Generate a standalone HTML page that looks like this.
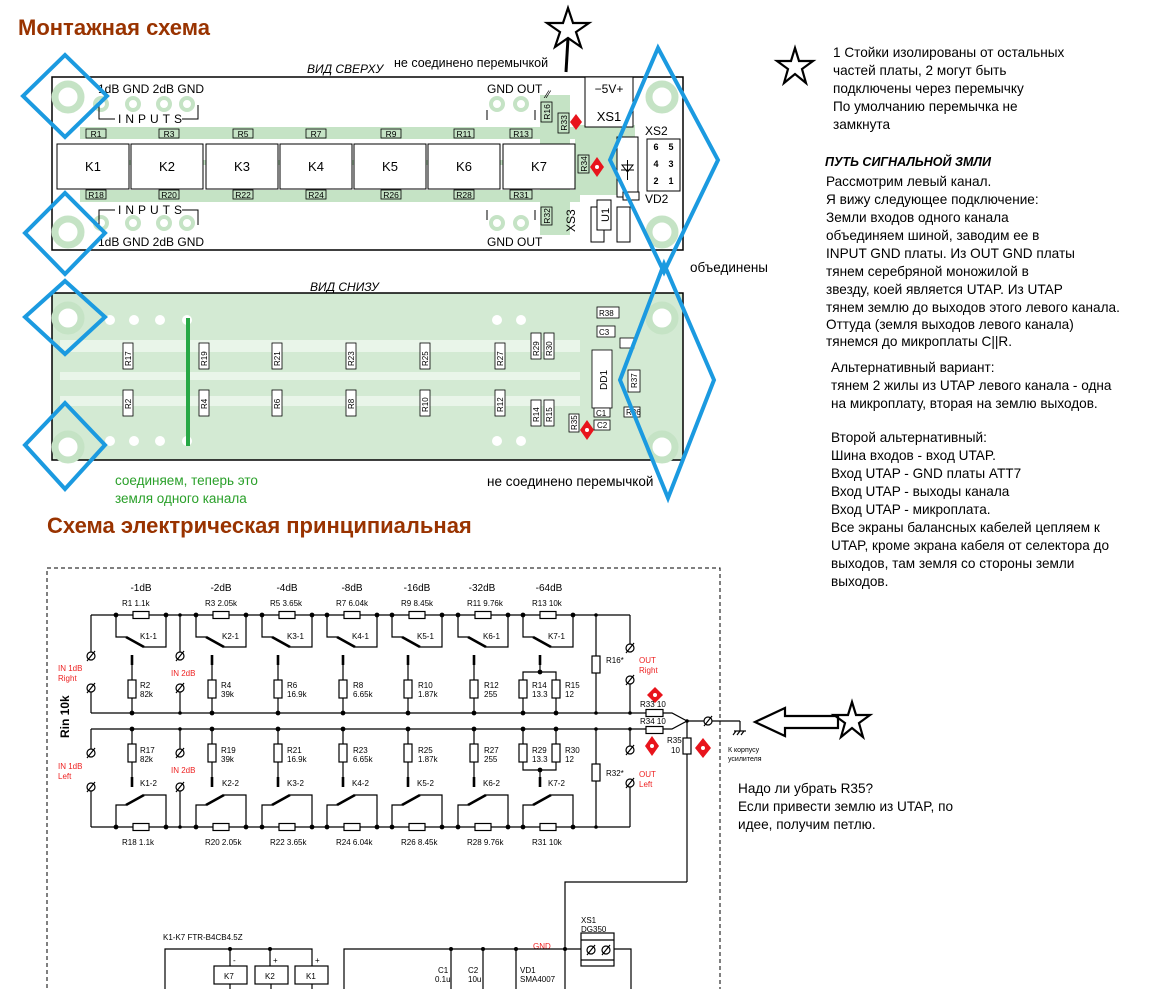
<!DOCTYPE html>
<html><head><meta charset="utf-8"><style>
html,body{margin:0;padding:0;background:#fff;}
svg{display:block;font-family:"Liberation Sans",sans-serif;}
.n{font-family:"Liberation Sans Narrow","Liberation Sans",sans-serif;}
</style></head><body>
<svg width="1152" height="989" viewBox="0 0 1152 989" xmlns="http://www.w3.org/2000/svg">
<defs>
<g id="gnd"><circle r="4" fill="#fff" stroke="#000" stroke-width="1.2"/><line x1="-4" y1="5" x2="4" y2="-5" stroke="#000" stroke-width="1.2"/></g>
<g id="sec" stroke="#000" fill="none" stroke-width="1.2">
<rect x="17" y="-3.5" width="16" height="7" fill="#fff"/>
<polyline points="0,0 0,22 10,22"/>
<line x1="10" y1="22" x2="28" y2="32" stroke-width="2.6"/>
<polyline points="28,32 50,32 50,0"/>
<line x1="16" y1="40" x2="16" y2="50" stroke-width="2.6"/>
<line x1="16" y1="50" x2="16" y2="98"/>
<rect x="12" y="65" width="8" height="18" fill="#fff"/>
<circle cx="0" cy="0" r="1.8" fill="#000"/><circle cx="50" cy="0" r="1.8" fill="#000"/><circle cx="16" cy="98" r="1.8" fill="#000"/>
</g>
<g id="sec7" stroke="#000" fill="none" stroke-width="1.2">
<rect x="17" y="-3.5" width="16" height="7" fill="#fff"/>
<polyline points="0,0 0,22 10,22"/>
<line x1="10" y1="22" x2="28" y2="32" stroke-width="2.6"/>
<polyline points="28,32 50,32 50,0"/>
<line x1="17" y1="40" x2="17" y2="50" stroke-width="2.6"/>
<polyline points="17,50 17,57"/>
<polyline points="0,98 0,57 33,57 33,98"/>
<rect x="-4" y="65" width="8" height="18" fill="#fff"/>
<rect x="29" y="65" width="8" height="18" fill="#fff"/>
<circle cx="0" cy="0" r="1.8" fill="#000"/><circle cx="50" cy="0" r="1.8" fill="#000"/><circle cx="17" cy="57" r="1.8" fill="#000"/><circle cx="0" cy="98" r="1.8" fill="#000"/><circle cx="33" cy="98" r="1.8" fill="#000"/>
</g>
<g id="pad"><circle r="6" fill="#fff" stroke="#c5e3c5" stroke-width="4"/></g>
<g id="hole"><circle r="13" fill="#fff" stroke="#c5e3c5" stroke-width="7"/></g>
</defs>

<text x="18" y="35" font-size="22" font-weight="bold" fill="#993300">Монтажная схема</text>
<text x="47" y="533" font-size="22" font-weight="bold" fill="#993300">Схема электрическая принципиальная</text>

<text x="307" y="73" font-size="12" font-style="italic">ВИД СВЕРХУ</text>
<text x="394" y="67" font-size="12.5">не соединено перемычкой</text>
<rect x="52" y="77" width="631" height="173" fill="#fff" stroke="#000" stroke-width="1.5"/>
<g fill="#c5e3c5">
<rect x="80" y="127" width="500" height="12"/>
<rect x="80" y="190" width="500" height="12"/>
<rect x="95" y="160" width="480" height="5"/>
<rect x="540" y="95" width="30" height="140"/>
<rect x="575" y="125" width="60" height="70"/>
</g>
<use href="#hole" x="68" y="97"/><use href="#hole" x="68" y="232"/><use href="#hole" x="662" y="97"/><use href="#hole" x="662" y="232"/>
<use href="#pad" x="101" y="104"/><use href="#pad" x="133" y="104"/><use href="#pad" x="164" y="104"/><use href="#pad" x="187" y="104"/>
<use href="#pad" x="101" y="223"/><use href="#pad" x="133" y="223"/><use href="#pad" x="164" y="223"/><use href="#pad" x="187" y="223"/>
<use href="#pad" x="497" y="104"/><use href="#pad" x="521" y="104"/><use href="#pad" x="497" y="223"/><use href="#pad" x="521" y="223"/>
<g class="n" font-size="12">
<text x="98" y="93">1dB GND  2dB GND</text>
<text x="98" y="246">1dB GND  2dB GND</text>
<text x="487" y="93">GND OUT</text>
<text x="487" y="246">GND OUT</text>
<text x="118" y="123" letter-spacing="4">INPUTS</text>
<text x="118" y="214" letter-spacing="4">INPUTS</text>
</g>
<g stroke="#000" fill="none" stroke-width="1">
<polyline points="99,105 99,119 115,119"/><polyline points="182,119 198,119 198,105"/>
<polyline points="99,225 99,210 115,210"/><polyline points="182,210 198,210 198,225"/>
<polyline points="487,120 487,110"/><polyline points="535,120 535,110"/>
<polyline points="487,210 487,220"/><polyline points="535,210 535,220"/>
</g>
<g fill="#fff" stroke="#000" stroke-width="1">
<rect x="57" y="144" width="72" height="45"/><rect x="131" y="144" width="72" height="45"/><rect x="206" y="144" width="72" height="45"/><rect x="280" y="144" width="72" height="45"/><rect x="354" y="144" width="72" height="45"/><rect x="428" y="144" width="72" height="45"/><rect x="503" y="144" width="72" height="45"/>
</g>
<g font-size="13" text-anchor="middle" class="n">
<text x="93" y="171">K1</text><text x="167" y="171">K2</text><text x="242" y="171">K3</text><text x="316" y="171">K4</text><text x="390" y="171">K5</text><text x="464" y="171">K6</text><text x="539" y="171">K7</text>
</g>
<g fill="#c5e3c5" stroke="#000" stroke-width="0.8">
<rect x="86" y="129" width="20" height="9"/><rect x="159" y="129" width="20" height="9"/><rect x="233" y="129" width="20" height="9"/><rect x="306" y="129" width="20" height="9"/><rect x="381" y="129" width="20" height="9"/><rect x="454" y="129" width="20" height="9"/><rect x="510" y="129" width="22" height="9"/>
<rect x="86" y="190" width="20" height="9"/><rect x="159" y="190" width="20" height="9"/><rect x="233" y="190" width="20" height="9"/><rect x="306" y="190" width="20" height="9"/><rect x="381" y="190" width="20" height="9"/><rect x="454" y="190" width="20" height="9"/><rect x="510" y="190" width="22" height="9"/>
<rect x="541" y="102" width="11" height="20"/><rect x="558" y="113" width="11" height="20"/><rect x="578" y="155" width="11" height="18"/><rect x="541" y="207" width="11" height="18"/>
</g>
<g font-size="8.5" text-anchor="middle" class="n">
<text x="96" y="137">R1</text><text x="169" y="137">R3</text><text x="243" y="137">R5</text><text x="316" y="137">R7</text><text x="391" y="137">R9</text><text x="464" y="137">R11</text><text x="521" y="137">R13</text>
<text x="96" y="198">R18</text><text x="169" y="198">R20</text><text x="243" y="198">R22</text><text x="316" y="198">R24</text><text x="391" y="198">R26</text><text x="464" y="198">R28</text><text x="521" y="198">R31</text>
<text transform="translate(550,112) rotate(-90)">R16</text><text transform="translate(567,123) rotate(-90)">R33</text><text transform="translate(587,164) rotate(-90)">R34</text><text transform="translate(550,216) rotate(-90)">R32</text>
</g>
<rect x="585" y="77" width="48" height="50" fill="#fff" stroke="#000"/>
<text x="609" y="93" font-size="12" text-anchor="middle" class="n">−5V+</text>
<text x="609" y="121" font-size="13" text-anchor="middle" class="n">XS1</text>
<rect x="617" y="137" width="21" height="60" fill="#fff" stroke="#000"/>
<path d="M621,170 L634,170 M627.5,160 L627.5,180 M622,165 L633,165 L627.5,172 Z" stroke="#000" fill="none"/>
<text x="645" y="135" font-size="12" class="n">XS2</text>
<rect x="647" y="139" width="33" height="52" fill="#fff" stroke="#000"/>
<g font-size="9" text-anchor="middle" font-weight="bold"><text x="656" y="150">6</text><text x="671" y="150">5</text><text x="656" y="167">4</text><text x="671" y="167">3</text><text x="656" y="184">2</text><text x="671" y="184">1</text></g>
<text x="645" y="203" font-size="12" class="n">VD2</text>
<rect x="623" y="192" width="16" height="8" fill="#fff" stroke="#000"/>
<rect x="591" y="207" width="13" height="35" fill="#fff" stroke="#000"/>
<rect x="597" y="200" width="14" height="30" fill="#fff" stroke="#000"/>
<rect x="617" y="207" width="13" height="35" fill="#fff" stroke="#000"/>
<text transform="translate(575,232) rotate(-90)" font-size="12" class="n">XS3</text>
<text transform="translate(609,222) rotate(-90)" font-size="11" class="n">U1</text>
<text x="546" y="98" font-size="11">⁄⁄</text>

<text x="310" y="291" font-size="12" font-style="italic">ВИД СНИЗУ</text>
<text x="690" y="272" font-size="13.5">объединены</text>
<rect x="52" y="293" width="631" height="167" fill="#d3ead3" stroke="#000" stroke-width="1.5"/>
<g fill="#e9f5e9"><rect x="60" y="340" width="520" height="12"/><rect x="60" y="372" width="520" height="8"/><rect x="60" y="396" width="520" height="10"/></g>
<use href="#hole" x="68" y="318"/><use href="#hole" x="68" y="447"/><use href="#hole" x="662" y="318"/><use href="#hole" x="662" y="447"/>
<g fill="#fff">
<circle cx="110" cy="320" r="5"/><circle cx="134" cy="320" r="5"/><circle cx="160" cy="320" r="5"/><circle cx="187" cy="320" r="5"/><circle cx="497" cy="320" r="5"/><circle cx="521" cy="320" r="5"/>
<circle cx="110" cy="441" r="5"/><circle cx="134" cy="441" r="5"/><circle cx="160" cy="441" r="5"/><circle cx="187" cy="441" r="5"/><circle cx="497" cy="441" r="5"/><circle cx="521" cy="441" r="5"/>
</g>
<g fill="#fff" stroke="#000" stroke-width="0.8">
<rect x="123" y="343" width="10" height="26"/><rect x="199" y="343" width="10" height="26"/><rect x="272" y="343" width="10" height="26"/><rect x="346" y="343" width="10" height="26"/><rect x="420" y="343" width="10" height="26"/><rect x="495" y="343" width="10" height="26"/><rect x="531" y="333" width="10" height="26"/><rect x="544" y="333" width="10" height="26"/>
<rect x="123" y="390" width="10" height="26"/><rect x="199" y="390" width="10" height="26"/><rect x="272" y="390" width="10" height="26"/><rect x="346" y="390" width="10" height="26"/><rect x="420" y="390" width="10" height="26"/><rect x="495" y="390" width="10" height="26"/><rect x="531" y="400" width="10" height="26"/><rect x="544" y="400" width="10" height="26"/>
<rect x="597" y="307" width="22" height="11"/><rect x="597" y="326" width="18" height="11"/><rect x="620" y="338" width="14" height="10"/><rect x="592" y="350" width="20" height="58"/><rect x="628" y="370" width="12" height="22"/><rect x="594" y="408" width="16" height="9"/><rect x="594" y="420" width="16" height="10"/><rect x="624" y="407" width="16" height="10"/><rect x="569" y="414" width="10" height="18"/>
</g>
<g font-size="8" class="n">
<text transform="translate(131,366) rotate(-90)">R17</text><text transform="translate(207,366) rotate(-90)">R19</text><text transform="translate(280,366) rotate(-90)">R21</text><text transform="translate(354,366) rotate(-90)">R23</text><text transform="translate(428,366) rotate(-90)">R25</text><text transform="translate(503,366) rotate(-90)">R27</text><text transform="translate(539,356) rotate(-90)">R29</text><text transform="translate(552,356) rotate(-90)">R30</text>
<text transform="translate(131,409) rotate(-90)">R2</text><text transform="translate(207,409) rotate(-90)">R4</text><text transform="translate(280,409) rotate(-90)">R6</text><text transform="translate(354,409) rotate(-90)">R8</text><text transform="translate(428,412) rotate(-90)">R10</text><text transform="translate(503,412) rotate(-90)">R12</text><text transform="translate(539,422) rotate(-90)">R14</text><text transform="translate(552,422) rotate(-90)">R15</text>
<text x="599" y="316">R38</text><text x="599" y="335">C3</text><text x="596" y="416">C1</text><text x="597" y="428">C2</text><text x="626" y="415">R36</text>
<text transform="translate(607,390) rotate(-90)" font-size="10">DD1</text><text transform="translate(637,388) rotate(-90)">R37</text><text transform="translate(577,430) rotate(-90)">R35</text>
</g>
<line x1="188" y1="318" x2="188" y2="446" stroke="#27a845" stroke-width="4"/>
<text x="115" y="485" font-size="13.5" fill="#2aa02a">соединяем, теперь это</text>
<text x="115" y="503" font-size="13.5" fill="#2aa02a">земля одного канала</text>
<text x="487" y="486" font-size="13.5">не соединено перемычкой</text>

<g fill="none" stroke="#1b9ae0" stroke-width="4">
<polygon points="23,96 65,55 107,96 65,137"/>
<polygon points="25,233 65,193 105,233 65,274"/>
<polygon points="25,317 65,281 105,317 65,354"/>
<polygon points="25,445 65,403 105,445 65,489"/>
<polygon points="610,160 658,48 718,160 664,272"/>
<polygon points="620,380 664,264 714,380 668,498"/>
</g>

<g fill="#e8141c">
<polygon points="576,114 582,122 576,130 570,122"/>
<polygon points="597,157 604,167 597,177 590,167"/>
<polygon points="587,420 594,430 587,440 580,430"/>
<polygon points="655,687 663,695 655,703 647,695"/>
<polygon points="652,736 659,746 652,756 645,746"/>
<polygon points="703,738 711,748 703,758 695,748"/>
</g>
<g fill="#fff"><circle cx="597" cy="167" r="2"/><circle cx="587" cy="430" r="2"/><circle cx="655" cy="695" r="2"/><circle cx="652" cy="746" r="2"/><circle cx="703" cy="748" r="2"/></g>

<g fill="none" stroke="#000" stroke-width="2.2">
<polygon points="568,8 573,23 589,23 576,32 581,47 568,38 555,47 560,32 547,23 563,23"/>
<polygon points="795,48 799,61 813,61 802,69 806,83 795,74 784,83 788,69 777,61 791,61"/>
<polygon points="852,702 856,715 870,715 859,723 863,737 852,728 841,737 845,723 834,715 848,715"/>
<polygon points="755,722 785,708 785,716 838,716 838,728 785,728 785,736"/>
</g>
<line x1="568" y1="38" x2="566" y2="72" stroke="#000" stroke-width="3"/>

<g font-size="13.6">
<text x="833" y="57">1 Стойки изолированы от остальных</text>
<text x="833" y="75">частей платы, 2 могут быть</text>
<text x="833" y="93">подключены через перемычку</text>
<text x="833" y="111">По умолчанию перемычка не</text>
<text x="833" y="129">замкнута</text>
<text x="825" y="166" font-weight="bold" font-style="italic" font-size="12.5">ПУТЬ СИГНАЛЬНОЙ ЗМЛИ</text>
<text x="826" y="186">Рассмотрим левый канал.</text>
<text x="826" y="204">Я вижу следующее подключение:</text>
<text x="826" y="222">Земли входов одного канала</text>
<text x="826" y="240">объединяем шиной, заводим ее в</text>
<text x="826" y="258">INPUT GND платы. Из OUT GND платы</text>
<text x="826" y="276">тянем серебряной моножилой в</text>
<text x="826" y="294">звезду, коей является UTAP. Из UTAP</text>
<text x="826" y="312">тянем землю до выходов этого левого канала.</text>
<text x="826" y="329">Оттуда (земля выходов левого канала)</text>
<text x="826" y="346">тянемся до микроплаты C||R.</text>
<text x="831" y="372">Альтернативный вариант:</text>
<text x="831" y="390">тянем 2 жилы из UTAP левого канала - одна</text>
<text x="831" y="408">на микроплату, вторая на землю выходов.</text>
<text x="831" y="442">Второй альтернативный:</text>
<text x="831" y="460">Шина входов - вход UTAP.</text>
<text x="831" y="478">Вход UTAP - GND платы ATT7</text>
<text x="831" y="496">Вход UTAP - выходы канала</text>
<text x="831" y="514">Вход UTAP - микроплата.</text>
<text x="831" y="532">Все экраны балансных кабелей цепляем к</text>
<text x="831" y="550">UTAP, кроме экрана кабеля от селектора до</text>
<text x="831" y="568">выходов, там земля со стороны земли</text>
<text x="831" y="586">выходов.</text>
<text x="738" y="793">Надо ли убрать R35?</text>
<text x="738" y="811"> Если привести землю из UTAP, по</text>
<text x="738" y="829">идее, получим петлю.</text>
</g>

<rect x="47" y="568" width="673" height="440" fill="none" stroke="#000" stroke-dasharray="4,3"/>
<g stroke="#000" stroke-width="1.2" fill="none">
<line x1="91" y1="615" x2="630" y2="615"/>
<line x1="91" y1="713" x2="646" y2="713"/>
<line x1="91" y1="729" x2="646" y2="729"/>
<line x1="91" y1="827" x2="630" y2="827"/>
<line x1="91" y1="615" x2="91" y2="652"/><line x1="91" y1="692" x2="91" y2="713"/>
<line x1="180" y1="615" x2="180" y2="652"/><line x1="180" y1="692" x2="180" y2="713"/>
<line x1="91" y1="729" x2="91" y2="749"/><line x1="91" y1="791" x2="91" y2="827"/>
<line x1="180" y1="729" x2="180" y2="749"/><line x1="180" y1="791" x2="180" y2="827"/>
<line x1="596" y1="615" x2="596" y2="713"/><rect x="592" y="656" width="8" height="17" fill="#fff"/>
<line x1="596" y1="729" x2="596" y2="827"/><rect x="592" y="764" width="8" height="17" fill="#fff"/>
<line x1="630" y1="615" x2="630" y2="644"/><line x1="630" y1="684" x2="630" y2="713"/>
<line x1="630" y1="729" x2="630" y2="746"/><line x1="630" y1="787" x2="630" y2="827"/>
<rect x="646" y="709.5" width="17" height="7" fill="#fff"/>
<rect x="646" y="726.5" width="17" height="7" fill="#fff"/>
<polyline points="663,713 672,713 687,721 672,729 663,729"/>
<line x1="687" y1="721" x2="740" y2="721"/>
<polyline points="740,721 740,731"/><line x1="734" y1="731" x2="746" y2="731"/><line x1="736" y1="731" x2="733" y2="735"/><line x1="740" y1="731" x2="737" y2="735"/><line x1="744" y1="731" x2="741" y2="735"/>
<line x1="687" y1="721" x2="687" y2="882"/><rect x="683" y="738" width="8" height="16" fill="#fff"/>
<polyline points="687,882 565,882 565,989"/>
</g>
<g fill="#000"><circle cx="687" cy="721" r="1.8"/><circle cx="596" cy="615" r="1.8"/><circle cx="596" cy="713" r="1.8"/><circle cx="630" cy="713" r="1.8"/><circle cx="596" cy="729" r="1.8"/><circle cx="596" cy="827" r="1.8"/><circle cx="630" cy="729" r="1.8"/><circle cx="180" cy="615" r="1.8"/><circle cx="180" cy="713" r="1.8"/><circle cx="180" cy="729" r="1.8"/><circle cx="180" cy="827" r="1.8"/></g>
<use href="#gnd" x="91" y="656"/><use href="#gnd" x="91" y="688"/><use href="#gnd" x="180" y="656"/><use href="#gnd" x="180" y="688"/>
<use href="#gnd" x="91" y="753"/><use href="#gnd" x="91" y="787"/><use href="#gnd" x="180" y="753"/><use href="#gnd" x="180" y="787"/>
<use href="#gnd" x="630" y="648"/><use href="#gnd" x="630" y="680"/><use href="#gnd" x="630" y="750"/><use href="#gnd" x="630" y="783"/><use href="#gnd" x="708" y="721"/>
<use href="#sec" transform="translate(116,615)"/><use href="#sec" transform="translate(196,615)"/><use href="#sec" transform="translate(262,615)"/><use href="#sec" transform="translate(327,615)"/><use href="#sec" transform="translate(392,615)"/><use href="#sec" transform="translate(458,615)"/><use href="#sec7" transform="translate(523,615)"/>
<use href="#sec" transform="translate(116,827) scale(1,-1)"/><use href="#sec" transform="translate(196,827) scale(1,-1)"/><use href="#sec" transform="translate(262,827) scale(1,-1)"/><use href="#sec" transform="translate(327,827) scale(1,-1)"/><use href="#sec" transform="translate(392,827) scale(1,-1)"/><use href="#sec" transform="translate(458,827) scale(1,-1)"/><use href="#sec7" transform="translate(523,827) scale(1,-1)"/>
<g font-size="8" class="n">
<g text-anchor="middle" font-size="10"><text x="141" y="591">-1dB</text><text x="221" y="591">-2dB</text><text x="287" y="591">-4dB</text><text x="352" y="591">-8dB</text><text x="417" y="591">-16dB</text><text x="482" y="591">-32dB</text><text x="549" y="591">-64dB</text></g>
<text x="122" y="606">R1   1.1k</text><text x="205" y="606">R3   2.05k</text><text x="270" y="606">R5   3.65k</text><text x="336" y="606">R7   6.04k</text><text x="401" y="606">R9   8.45k</text><text x="467" y="606">R11   9.76k</text><text x="532" y="606">R13   10k</text>
<text x="122" y="845">R18   1.1k</text><text x="205" y="845">R20   2.05k</text><text x="270" y="845">R22   3.65k</text><text x="336" y="845">R24   6.04k</text><text x="401" y="845">R26   8.45k</text><text x="467" y="845">R28   9.76k</text><text x="532" y="845">R31   10k</text>
<text x="140" y="639">K1-1</text><text x="222" y="639">K2-1</text><text x="287" y="639">K3-1</text><text x="352" y="639">K4-1</text><text x="417" y="639">K5-1</text><text x="483" y="639">K6-1</text><text x="548" y="639">K7-1</text>
<text x="140" y="786">K1-2</text><text x="222" y="786">K2-2</text><text x="287" y="786">K3-2</text><text x="352" y="786">K4-2</text><text x="417" y="786">K5-2</text><text x="483" y="786">K6-2</text><text x="548" y="786">K7-2</text>
<text x="140" y="688">R2</text><text x="140" y="697">82k</text><text x="221" y="688">R4</text><text x="221" y="697">39k</text><text x="287" y="688">R6</text><text x="287" y="697">16.9k</text><text x="353" y="688">R8</text><text x="353" y="697">6.65k</text><text x="418" y="688">R10</text><text x="418" y="697">1.87k</text><text x="484" y="688">R12</text><text x="484" y="697">255</text><text x="532" y="688">R14</text><text x="532" y="697">13.3</text><text x="565" y="688">R15</text><text x="565" y="697">12</text>
<text x="140" y="753">R17</text><text x="140" y="762">82k</text><text x="221" y="753">R19</text><text x="221" y="762">39k</text><text x="287" y="753">R21</text><text x="287" y="762">16.9k</text><text x="353" y="753">R23</text><text x="353" y="762">6.65k</text><text x="418" y="753">R25</text><text x="418" y="762">1.87k</text><text x="484" y="753">R27</text><text x="484" y="762">255</text><text x="532" y="753">R29</text><text x="532" y="762">13.3</text><text x="565" y="753">R30</text><text x="565" y="762">12</text>
<text x="606" y="663">R16*</text><text x="606" y="776">R32*</text>
<text x="640" y="707">R33   10</text><text x="640" y="724">R34   10</text><text x="667" y="743">R35</text><text x="671" y="753">10</text>
<text x="728" y="752" font-size="7">К корпусу</text><text x="728" y="761" font-size="7">усилителя</text>
<g fill="#ee2222"><text x="58" y="671">IN 1dB</text><text x="58" y="681">Right</text><text x="171" y="676">IN 2dB</text><text x="58" y="769">IN 1dB</text><text x="58" y="779">Left</text><text x="171" y="773">IN 2dB</text><text x="639" y="663">OUT</text><text x="639" y="673">Right</text><text x="639" y="777">OUT</text><text x="639" y="787">Left</text><text x="533" y="949">GND</text></g>
</g>
<text transform="translate(69,738) rotate(-90)" font-size="12" font-weight="bold">Rin 10k</text>
<g stroke="#000" stroke-width="1.2" fill="none">
<polyline points="165,989 165,949 312,949 312,966"/>
<line x1="230" y1="949" x2="230" y2="966"/><line x1="270" y1="949" x2="270" y2="966"/>
<rect x="214" y="966" width="33" height="18" fill="#fff"/><rect x="255" y="966" width="33" height="18" fill="#fff"/><rect x="295" y="966" width="33" height="18" fill="#fff"/>
<line x1="230" y1="984" x2="230" y2="989"/><line x1="271" y1="984" x2="271" y2="989"/><line x1="312" y1="984" x2="312" y2="989"/>
<polyline points="344,989 344,949 631,949 631,989"/>
<line x1="451" y1="949" x2="451" y2="989"/><line x1="483" y1="949" x2="483" y2="989"/><line x1="516" y1="949" x2="516" y2="989"/>
<rect x="581" y="933" width="33" height="33" fill="#fff"/><line x1="581" y1="940" x2="614" y2="940"/><line x1="581" y1="960" x2="614" y2="960"/>
</g>
<g fill="#000"><circle cx="230" cy="949" r="2"/><circle cx="270" cy="949" r="2"/><circle cx="451" cy="949" r="2"/><circle cx="483" cy="949" r="2"/><circle cx="516" cy="949" r="2"/><circle cx="565" cy="949" r="2"/></g>
<use href="#gnd" x="591" y="950"/><use href="#gnd" x="606" y="950"/>
<g font-size="8" class="n">
<text x="163" y="940">K1-K7  FTR-B4CB4.5Z</text>
<text x="224" y="979">K7</text><text x="265" y="979">K2</text><text x="306" y="979">K1</text>
<text x="233" y="963">-</text><text x="273" y="963">+</text><text x="315" y="963">+</text>
<text x="438" y="973">C1</text><text x="435" y="982">0.1u</text><text x="468" y="973">C2</text><text x="468" y="982">10u</text><text x="520" y="973">VD1</text><text x="520" y="982">SMA4007</text>
<text x="581" y="923">XS1</text><text x="581" y="932">DG350</text>
</g>
</svg>
</body></html>
